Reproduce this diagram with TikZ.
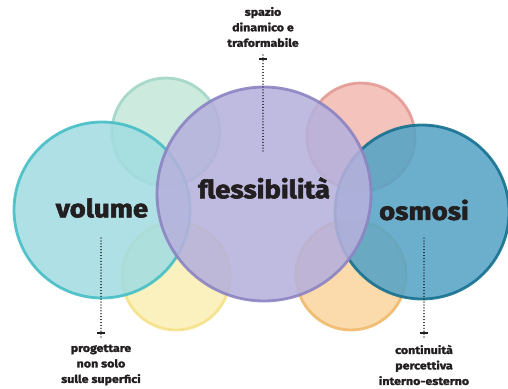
\documentclass[tikz,border=0pt]{standalone}
\usepackage{fontspec}
\setmainfont{Fira Sans}
\newfontfamily\heavy{Fira Sans}[BoldFeatures={FakeBold=2.4, FakeStretch=1.1}]
\newfontfamily\semiheavy{Fira Sans}[BoldFeatures={FakeBold=2.0, FakeStretch=1.15}]
\definecolor{volF}{HTML}{A3DCE1}
\definecolor{volD}{HTML}{45BEC6}
\definecolor{grnF}{HTML}{C6E7DB}
\definecolor{grnD}{HTML}{A2D6C6}
\definecolor{ylwF}{HTML}{FBEFB5}
\definecolor{ylwD}{HTML}{F4E288}
\definecolor{purF}{HTML}{B6B1DC}
\definecolor{purD}{HTML}{8C84C2}
\definecolor{redF}{HTML}{F3BCB3}
\definecolor{redD}{HTML}{E39A94}
\definecolor{orgF}{HTML}{FBD5A0}
\definecolor{orgD}{HTML}{F0BA6C}
\definecolor{osmF}{HTML}{56A4C6}
\definecolor{osmD}{HTML}{15708F}
\definecolor{ink}{HTML}{231F20}
\tikzset{
  blob/.style={circle, inner sep=0pt, line width=2.8pt, fill opacity=0.88, draw opacity=0.9},
  bigtext/.style={font=\heavy\bfseries\fontsize{25}{28}\selectfont, text=ink},
  smalltext/.style={font=\semiheavy\bfseries\fontsize{10.8}{15.5}\selectfont, text=ink, align=center},
  dots/.style={line width=1.2pt, dash pattern=on 0.01pt off 2.9pt, line cap=round, draw=ink},
  barline/.style={line width=2.4pt, draw=ink}
}
\begin{document}
\begin{tikzpicture}[x=1pt,y=-1pt]
\useasboundingbox (0,0) rectangle (508,388);
% small circles
\node[blob, minimum size=108pt, fill=grnF, draw=grnD] (grn) at (166,132) {};
\node[blob, minimum size=108pt, fill=ylwF, draw=ylwD] (ylw) at (176,276) {};
\node[blob, minimum size=108pt, fill=redF, draw=redD] (red) at (361,137) {};
\node[blob, minimum size=110pt, fill=orgF, draw=orgD] (org) at (351,275) {};
% big circles
\node[blob, minimum size=176pt, fill=volF, draw=volD] (vol) at (102,210) {};
\node[blob, minimum size=174pt, fill=osmF, draw=osmD] (osm) at (422,212) {};
\node[blob, minimum size=214pt, fill=purF, draw=purD] (flx) at (264,194) {};
% labels
\node[bigtext] (tvol) at (102,208) {volume};
\node[bigtext] (tflx) at (264,188) {flessibilità};
\node[bigtext] (tosm) at (424,210) {osmosi};
% annotations
\node[smalltext] (atop) at (263,27) {spazio\\dinamico e\\traformabile};
\node[smalltext] (aleft) at (101,365) {progettare\\non solo\\sulle superfici};
\node[smalltext] (aright) at (424,365) {continuità\\percettiva\\interno-esterno};
% connectors
\coordinate (ctop) at (263,59);
\coordinate (etop) at (263,153);
\coordinate (cleft) at (101,333);
\coordinate (eleft) at (101,238);
\coordinate (cright) at (424,333);
\coordinate (eright) at (424,238);
\draw[dots] ([yshift=4pt]ctop) -- (etop);
\draw[dots] ([yshift=-4pt]cleft) -- (eleft);
\draw[dots] ([yshift=-4pt]cright) -- (eright);
\draw[barline] ([xshift=-4pt]ctop) -- ([xshift=4pt]ctop);
\draw[barline] ([xshift=-4pt]cleft) -- ([xshift=4pt]cleft);
\draw[barline] ([xshift=-4pt]cright) -- ([xshift=4pt]cright);
\end{tikzpicture}
\end{document}
